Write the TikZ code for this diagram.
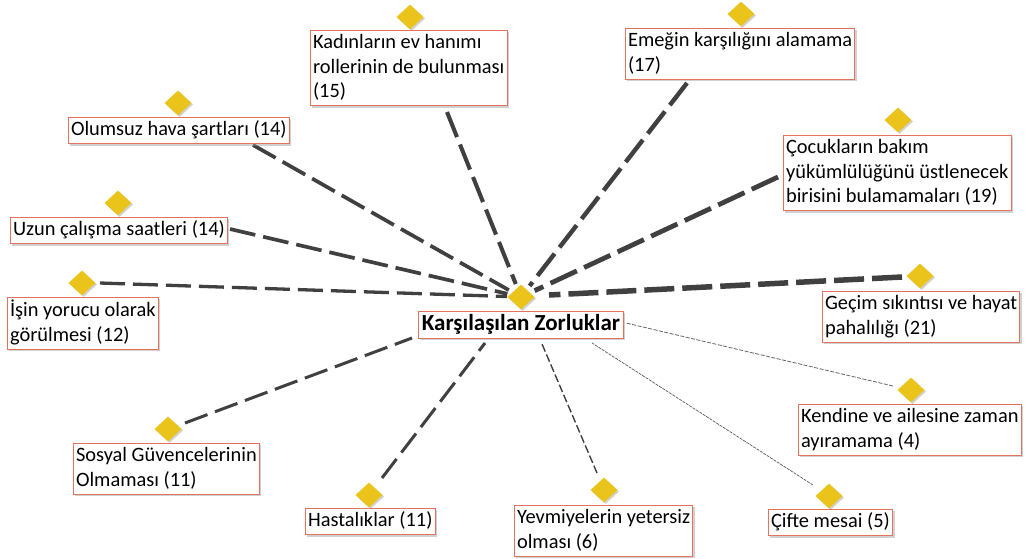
\documentclass[tikz,border=0pt]{standalone}
\usepackage{fontspec}
\setmainfont{Carlito}
\usetikzlibrary{shapes.geometric,shadows}
\definecolor{boxred}{HTML}{E2735F}
\definecolor{diayel}{HTML}{EBC41B}
\definecolor{linegray}{HTML}{404040}
\newcommand\ftop{\rule{0pt}{15.5pt}}
\newcommand\fbot{\rule[-5pt]{0pt}{5pt}}
\tikzset{
  lbl/.style={draw=boxred, line width=0.9pt, fill=white, anchor=north west, align=left,
    font=\fontsize{20.4}{24.5}\selectfont, inner xsep=2.6pt, inner ysep=2.8pt,
    drop shadow={shadow xshift=2pt, shadow yshift=-2pt, fill=black!40, opacity=0.45}},
  dia/.style={diamond, aspect=1.05, minimum width=27pt, minimum height=25pt, inner sep=0pt,
    fill=diayel, drop shadow={shadow xshift=1.5pt, shadow yshift=-1.5pt, fill=black!40, opacity=0.45}},
  con/.style={draw=linegray, line cap=butt},
  w21/.style={con, line width=5.5pt, dash pattern=on 30pt off 8pt},
  w19/.style={con, line width=4.8pt, dash pattern=on 29pt off 8pt},
  w17/.style={con, line width=4.4pt, dash pattern=on 28pt off 8pt},
  w15/.style={con, line width=4pt, dash pattern=on 27pt off 8pt},
  w14/.style={con, line width=3.7pt, dash pattern=on 26pt off 8pt},
  w12/.style={con, line width=3.3pt, dash pattern=on 25pt off 8pt},
  w11/.style={con, line width=3pt, dash pattern=on 24pt off 8pt},
  w6/.style={con, line width=1.4pt, dash pattern=on 8pt off 3pt},
  w5/.style={con, line width=0.7pt, draw=black!65, dash pattern=on 3pt off 1pt},
  w4/.style={con, line width=0.8pt, draw=black!60, dash pattern=on 4pt off 1.5pt},
}
\begin{document}
\begin{tikzpicture}[x=1pt,y=-1pt]
\useasboundingbox (0,0) rectangle (1026,558);

% connector endpoints
\coordinate (ekad) at (447,112);
\coordinate (eemg) at (687,83);
\coordinate (eolu) at (253,145);
\coordinate (ecoc) at (778,177);
\coordinate (euzu) at (230,229);
\coordinate (eisi) at (100,283);
\coordinate (egec) at (902,277);
\coordinate (cgec) at (549,295);
\coordinate (eken) at (893,386);
\coordinate (cken) at (626,323);
\coordinate (esos) at (185,423);
\coordinate (csos) at (412,338);
\coordinate (ehas) at (382,478);
\coordinate (chas) at (485,343);
\coordinate (eyev) at (597,473);
\coordinate (cyev) at (542,344);
\coordinate (ecif) at (813,485);
\coordinate (ccif) at (592,343);

% central diamond (for convergence)
\coordinate (cdc) at (521,297);

% connectors
\draw[w15, shorten >=14pt] (ekad) -- (cdc);
\draw[w17, shorten >=14pt] (eemg) -- (cdc);
\draw[w14, shorten >=14pt] (eolu) -- (cdc);
\draw[w19, shorten >=15pt] (ecoc) -- (cdc);
\draw[w14, shorten >=14pt] (euzu) -- (cdc);
\draw[w12, shorten >=14pt] (eisi) -- (cdc);
\draw[w21] (egec) -- (cgec);
\draw[w4] (eken) -- (cken);
\draw[w11] (esos) -- (csos);
\draw[w11] (ehas) -- (chas);
\draw[w6] (eyev) -- (cyev);
\draw[w5] (ecif) -- (ccif);

% diamonds
\node[dia] (dkad) at (410,17) {};
\node[dia] (demg) at (741,14) {};
\node[dia] (dolu) at (178,103) {};
\node[dia] (dcoc) at (898,120) {};
\node[dia] (duzu) at (118,203) {};
\node[dia] (disi) at (82,283) {};
\node[dia] (dcen) at (521,297) {};
\node[dia] (dgec) at (920,276) {};
\node[dia] (dken) at (911,390) {};
\node[dia] (dsos) at (168,429) {};
\node[dia] (dhas) at (369,495) {};
\node[dia] (dyev) at (604,490) {};
\node[dia] (dcif) at (829,496) {};

% labels
\node[lbl] (kad) at (310,30) {\ftop Kadınların ev hanımı\\rollerinin de bulunması\\(15)\fbot};
\node[lbl] (emg) at (625,28) {\ftop Emeğin karşılığını alamama\\(17)\fbot};
\node[lbl] (olu) at (68,117) {\ftop Olumsuz hava şartları (14)\fbot};
\node[lbl] (coc) at (783,135) {\ftop Çocukların bakım\\yükümlülüğünü üstlenecek\\birisini bulamamaları (19)\fbot};
\node[lbl] (uzu) at (10,217) {\ftop Uzun çalışma saatleri (14)\fbot};
\node[lbl] (isi) at (7,297) {\ftop İşin yorucu olarak\\görülmesi (12)\fbot};
\node[lbl, font=\fontsize{23}{27}\selectfont\bfseries, inner ysep=2pt, minimum width=205pt] (cen) at (418,311) {\rule{0pt}{17.5pt}Karşılaşılan Zorluklar\rule[-5.5pt]{0pt}{5.5pt}};
\node[lbl] (gec) at (822,291) {\ftop Geçim sıkıntısı ve hayat\\pahalılığı (21)\fbot};
\node[lbl] (ken) at (798,404) {\ftop Kendine ve ailesine zaman\\ayıramama (4)\fbot};
\node[lbl] (sos) at (73,443) {\ftop Sosyal Güvencelerinin\\Olmaması (11)\fbot};
\node[lbl] (has) at (305,508) {\ftop Hastalıklar (11)\fbot};
\node[lbl] (yev) at (514,505) {\ftop Yevmiyelerin yetersiz\\olması (6)\fbot};
\node[lbl] (cif) at (768,509) {\ftop Çifte mesai (5)\fbot};
\end{tikzpicture}
\end{document}
